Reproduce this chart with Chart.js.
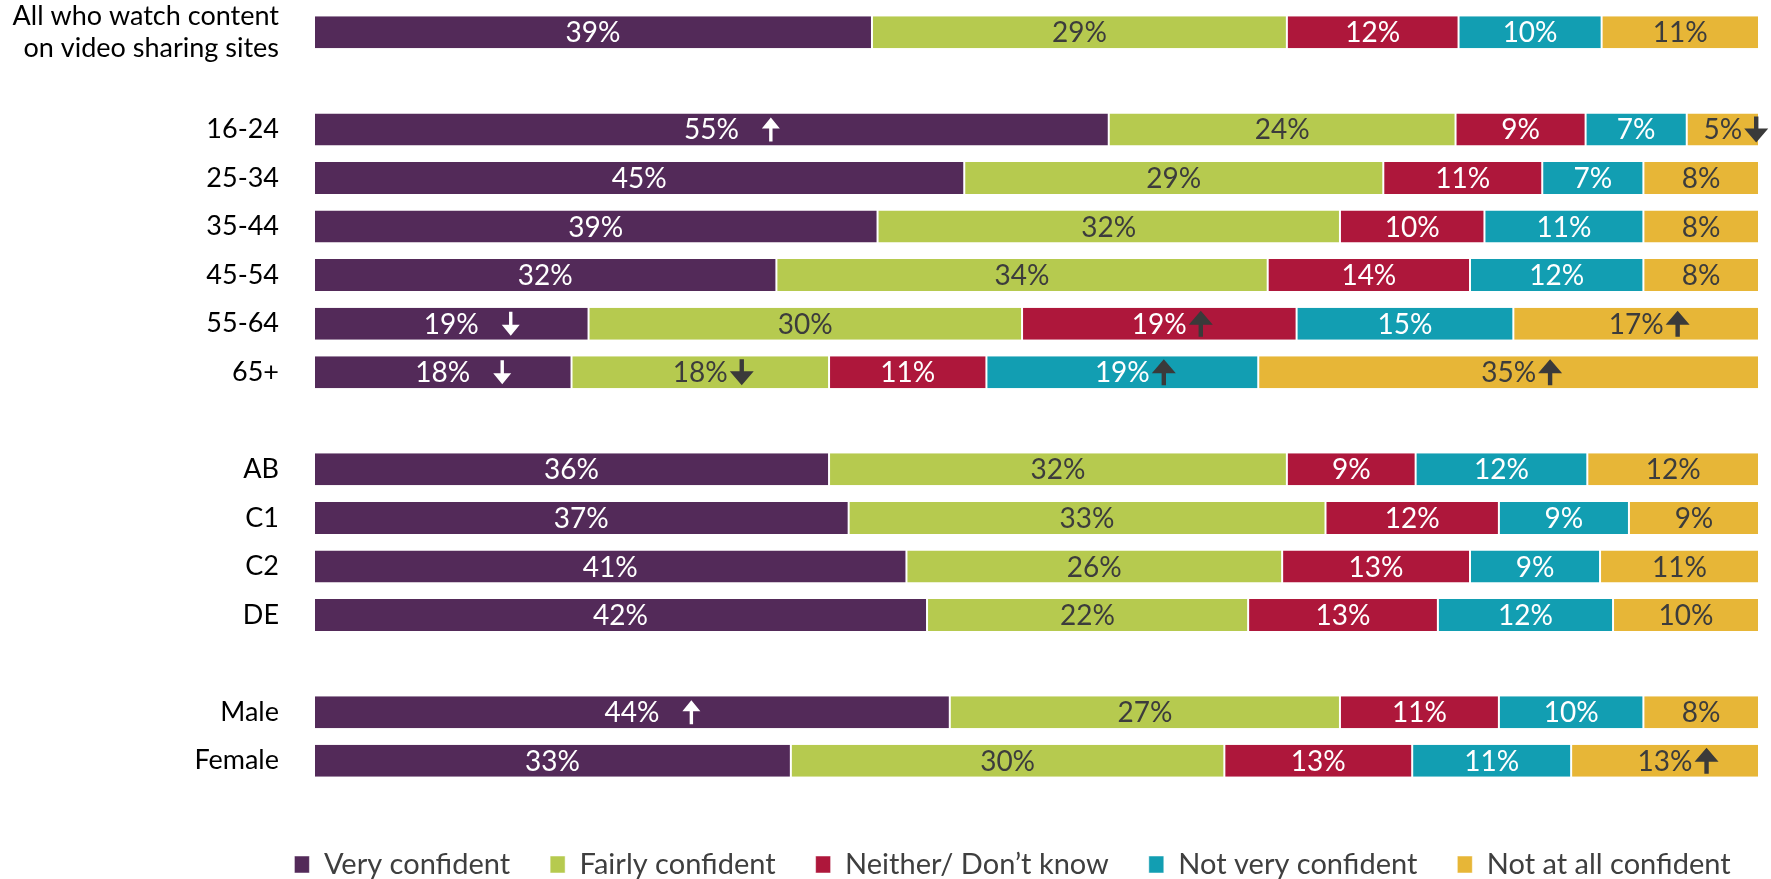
<!DOCTYPE html>
<html>
<head>
<meta charset="utf-8">
<script src="https://cdn.jsdelivr.net/npm/chart.js@4/dist/chart.umd.min.js"></script>
<style>
  html, body { margin: 0; background: #fff; }
</style>
</head>
<body>
<canvas id="chart" width="1771" height="879"></canvas>
<script>
// rows, blank entries are the gaps between groups
const rows = [['All who watch content', 'on video sharing sites'], '', '16-24', '25-34', '35-44', '45-54', '55-64', '65+', '', 'AB', 'C1', 'C2', 'DE', '', 'Male', 'Female'];
const seriesNames = ['Very confident', 'Fairly confident', 'Neither/ Don\u2019t know', 'Not very confident', 'Not at all confident'];

const veryConfident   = [39, null, 55, 45, 39, 32, 19, 18, null, 36, 37, 41, 42, null, 44, 33];
const fairlyConfident = [29, null, 24, 29, 32, 34, 30, 18, null, 32, 33, 26, 22, null, 27, 30];
const neitherDontKnow = [12, null,  9, 11, 10, 14, 19, 11, null,  9, 12, 13, 13, null, 11, 13];
const notVery         = [10, null,  7,  7, 11, 12, 15, 19, null, 12,  9,  9, 12, null, 10, 11];
const notAtAll        = [11, null,  5,  8,  8,  8, 17, 35, null, 12,  9, 11, 10, null,  8, 13];

// significance arrows: [row, series, direction]
const arrows = [[2, 0, 'up'], [2, 4, 'down'], [6, 0, 'down'], [6, 2, 'up'], [6, 4, 'up'],
                [7, 0, 'down'], [7, 1, 'down'], [7, 3, 'up'], [7, 4, 'up'], [14, 0, 'up'], [15, 4, 'up']];

const allSeries = [veryConfident, fairlyConfident, neitherDontKnow, notVery, notAtAll];
const colors = ['#532A59', '#B6CA4F', '#AE173B', '#129EB2', '#E7B637'];
const labelColors = ['#ffffff', '#3C3C3C', '#ffffff', '#ffffff', '#3C3C3C'];
const FONT = 'Lato, "Open Sans", sans-serif';

// 100% stacked: each row scaled to its own total
const rowTotals = rows.map((r, i) => allSeries.reduce((s, arr) => s + (arr[i] || 0), 0));
const pct = arr => arr.map((v, i) => v == null ? null : v / rowTotals[i] * 100);

const datasets = allSeries.map((arr, k) => ({
  label: seriesNames[k],
  data: pct(arr),
  backgroundColor: colors[k],
  borderColor: '#ffffff',
  borderWidth: { left: 1, right: 1, top: 0, bottom: 0 },
  borderSkipped: false,
  barPercentage: 0.66,
  categoryPercentage: 1
}));

function drawArrow(ctx, x, y, dir, color, big) {
  const hw = big ? 12 : 9, hh = big ? 14 : 11, sw = big ? 2.2 : 1.7, len = big ? 26 : 24;
  const s = dir === 'up' ? -1 : 1;
  const tip = y + s * len / 2, tail = y - s * len / 2;
  ctx.fillStyle = color;
  ctx.beginPath();
  ctx.moveTo(x, tip);
  ctx.lineTo(x - hw, tip - s * hh);
  ctx.lineTo(x - sw, tip - s * hh);
  ctx.lineTo(x - sw, tail);
  ctx.lineTo(x + sw, tail);
  ctx.lineTo(x + sw, tip - s * hh);
  ctx.lineTo(x + hw, tip - s * hh);
  ctx.closePath();
  ctx.fill();
}

const segmentLabels = {
  id: 'segmentLabels',
  afterLayout(chart) {
    // legend row centred at x=1012, wide enough that nothing wraps
    chart.legend.right = 1900;
    chart.legend.left = 125;
  },
  afterDatasetsDraw(chart) {
    const ctx = chart.ctx;
    ctx.save();
    ctx.font = '28px ' + FONT;
    ctx.textAlign = 'center';
    ctx.textBaseline = 'middle';
    chart.data.datasets.forEach((ds, k) => {
      chart.getDatasetMeta(k).data.forEach((bar, i) => {
        const v = allSeries[k][i];
        if (v == null) return;
        const cx = (bar.x + bar.base) / 2;
        const text = v + '%';
        ctx.fillStyle = labelColors[k];
        ctx.fillText(text, cx, bar.y + 1);
        const mark = arrows.find(a => a[0] === i && a[1] === k);
        if (mark) {
          const w = ctx.measureText(text).width;
          const big = k !== 0;
          drawArrow(ctx, cx + w / 2 + (big ? 14 : 32), bar.y, mark[2], k === 0 ? '#ffffff' : '#3A3A3A', big);
        }
      });
    });
    ctx.restore();
  }
};

new Chart(document.getElementById('chart'), {
  type: 'bar',
  data: { labels: rows, datasets: datasets },
  plugins: [segmentLabels],
  options: {
    indexAxis: 'y',
    responsive: false,
    animation: false,
    devicePixelRatio: 1,
    layout: { padding: { top: 8, right: 12, bottom: -10, left: 0 } },
    scales: {
      x: { stacked: true, min: 0, max: 100, display: false },
      y: {
        stacked: true,
        grid: { display: false, drawTicks: false },
        border: { display: false },
        ticks: { color: '#000000', padding: 35, font: { family: FONT, size: 27 }, autoSkip: false },
        afterFit: scale => {
          scale.width = 314;
          scale.paddingTop = 0;
          scale.paddingBottom = 0;
        }
      }
    },
    plugins: {
      tooltip: { enabled: false },
      legend: {
        position: 'bottom',
        title: { display: true, text: '', font: { size: 10, lineHeight: 1 }, padding: { top: 15, bottom: 0 } },
        labels: {
          color: '#3F3F3F',
          font: { family: FONT, size: 29 },
          boxWidth: 15,
          boxHeight: 17,
          padding: 40
        }
      }
    }
  }
});
</script>
</body>
</html>
